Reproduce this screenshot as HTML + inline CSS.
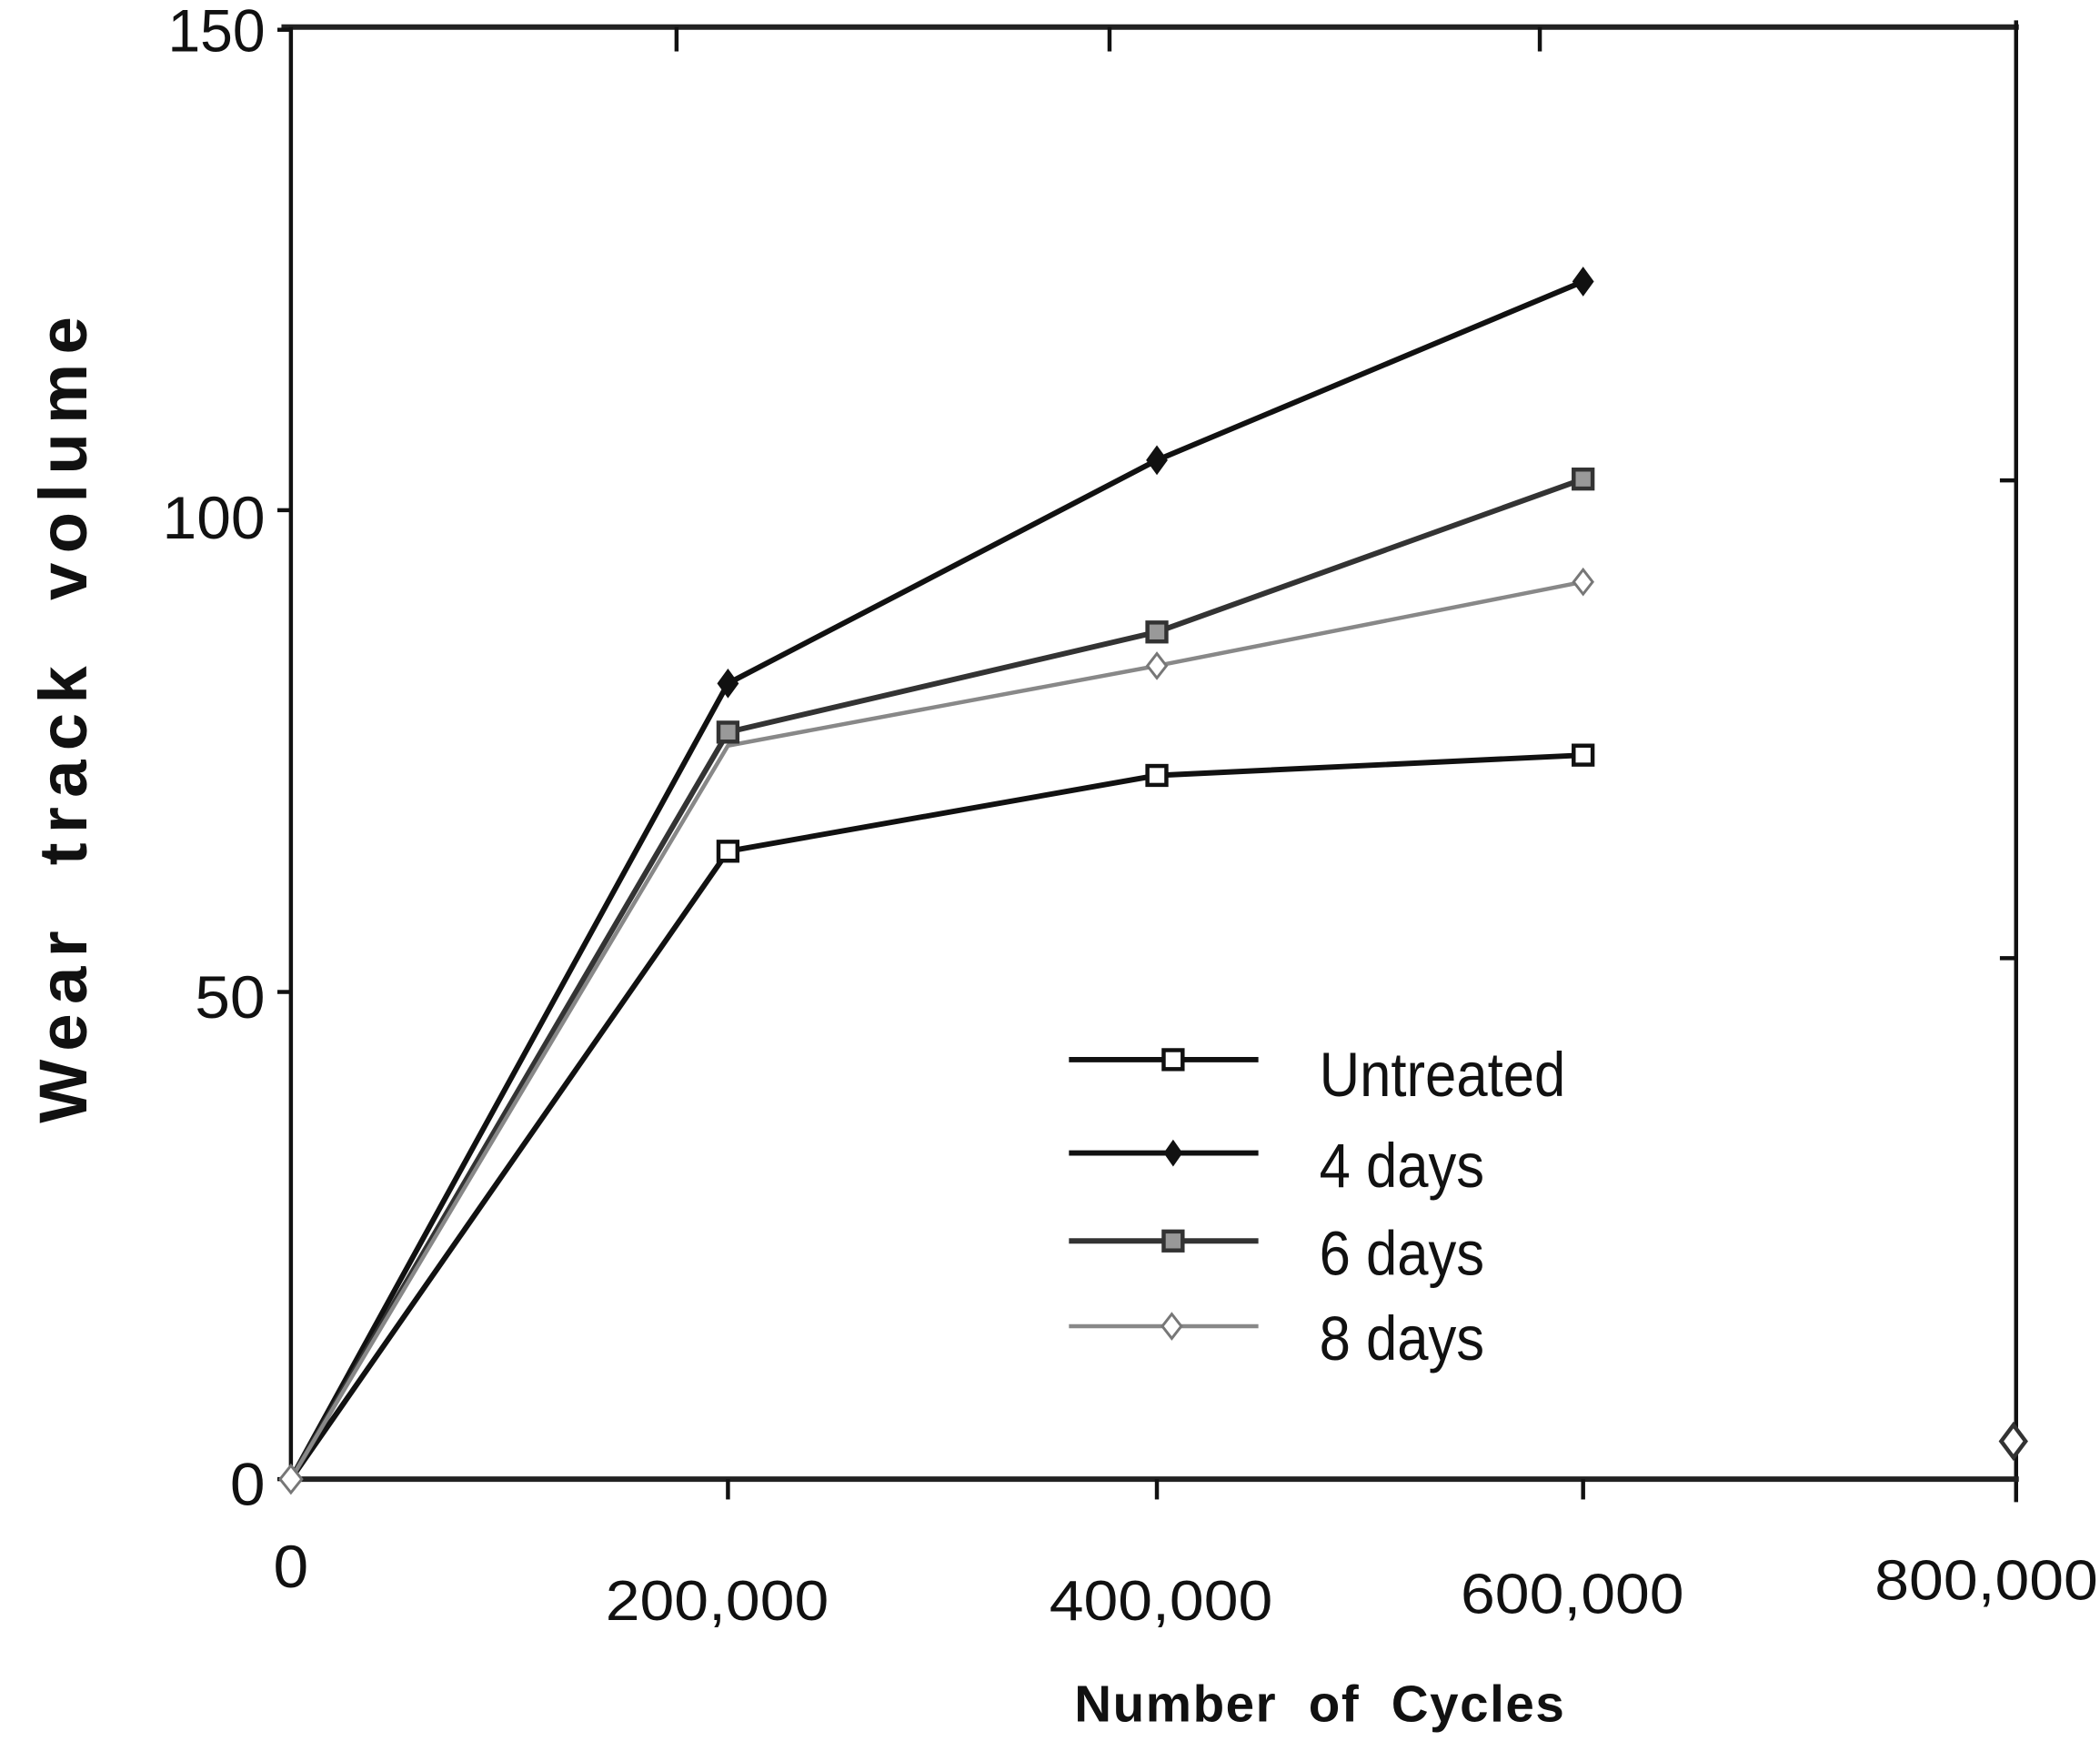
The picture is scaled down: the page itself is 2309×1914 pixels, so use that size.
<!DOCTYPE html>
<html><head><meta charset="utf-8"><style>
html,body{margin:0;padding:0;background:#fff;}
svg{display:block;}
text{font-family:"Liberation Sans",Arial,sans-serif;fill:#111;white-space:pre;}
</style></head><body>
<svg width="2309" height="1914" viewBox="0 0 1552 1286.5" xmlns="http://www.w3.org/2000/svg">
<rect width="1552" height="1286.5" fill="#fff"/>
<g stroke="#111" fill="none">
<line x1="208" y1="20" x2="1492" y2="20" stroke-width="4" stroke="#222"/>
<line x1="215" y1="20" x2="215" y2="1095" stroke-width="3"/>
<line x1="1490" y1="15" x2="1490" y2="1110" stroke-width="3"/>
<line x1="213" y1="1093" x2="1492" y2="1093" stroke-width="4" stroke="#222"/>
<line x1="205" y1="22" x2="215" y2="22" stroke-width="3"/>
<line x1="205" y1="377" x2="215" y2="377" stroke-width="3"/>
<line x1="205" y1="733" x2="215" y2="733" stroke-width="3"/>
<line x1="205" y1="1093" x2="215" y2="1093" stroke-width="3"/>
<line x1="1478" y1="355" x2="1490" y2="355" stroke-width="3"/>
<line x1="1478" y1="708" x2="1490" y2="708" stroke-width="3"/>
<line x1="500" y1="20" x2="500" y2="38" stroke-width="3"/>
<line x1="820" y1="20" x2="820" y2="38" stroke-width="3"/>
<line x1="1138" y1="20" x2="1138" y2="38" stroke-width="3"/>
<line x1="538" y1="1093" x2="538" y2="1108" stroke-width="3"/>
<line x1="855" y1="1093" x2="855" y2="1108" stroke-width="3"/>
<line x1="1170" y1="1093" x2="1170" y2="1108" stroke-width="3"/>
</g>
<g font-size="44" text-anchor="end">
<text x="196" y="38" textLength="72" lengthAdjust="spacingAndGlyphs">150</text>
<text x="196" y="398" textLength="76" lengthAdjust="spacingAndGlyphs">100</text>
<text x="196" y="752" textLength="52" lengthAdjust="spacingAndGlyphs">50</text>
<text x="196" y="1112" textLength="26" lengthAdjust="spacingAndGlyphs">0</text>
</g>
<text x="215" y="1173" font-size="44" text-anchor="middle" textLength="26" lengthAdjust="spacingAndGlyphs">0</text>
<g font-size="42" text-anchor="middle" style="font-family:'DejaVu Sans','Liberation Sans',sans-serif">
<text x="530" y="1197" textLength="165" lengthAdjust="spacingAndGlyphs">200,000</text>
<text x="858" y="1197" textLength="165" lengthAdjust="spacingAndGlyphs">400,000</text>
<text x="1162" y="1192" textLength="165" lengthAdjust="spacingAndGlyphs">600,000</text>
<text x="1468" y="1182" textLength="165" lengthAdjust="spacingAndGlyphs">800,000</text>
</g>
<text x="975" y="1272" font-size="38" font-weight="bold" text-anchor="middle" textLength="362" lengthAdjust="spacing">Number  of  Cycles</text>
<text transform="translate(64,532) rotate(-90)" font-size="50" font-weight="bold" text-anchor="middle" textLength="596" lengthAdjust="spacing">Wear  track  volume</text>
<g fill="none" stroke-linejoin="round">
<polyline points="215,1093 538,629 855,573 1170,558" stroke="#111" stroke-width="4"/>
<polyline points="215,1093 538,505 855,340 1170,208" stroke="#111" stroke-width="4"/>
<polyline points="215,1093 538,541 855,467 1170,354" stroke="#333" stroke-width="4"/>
<polyline points="215,1093 538,551 855,492 1170,430" stroke="#888" stroke-width="3"/>
</g>
<g>
<g fill="#fff" stroke="#111" stroke-width="3">
<rect x="531" y="622" width="14" height="14"/><rect x="848" y="566" width="14" height="14"/><rect x="1163" y="551" width="14" height="14"/>
</g>
<g fill="#111">
<polygon points="538,494 546,505 538,516 530,505"/><polygon points="855,329 863,340 855,351 847,340"/><polygon points="1170,197 1178,208 1170,219 1162,208"/>
</g>
<g fill="#999" stroke="#333" stroke-width="3">
<rect x="531" y="534" width="14" height="14"/><rect x="848" y="460" width="14" height="14"/><rect x="1163" y="347" width="14" height="14"/>
</g>
<g fill="#fff" stroke="#777" stroke-width="2">
<polygon points="855,483 862,492 855,501 848,492"/><polygon points="1170,421 1177,430 1170,439 1163,430"/>
<polygon points="215,1083 223,1093 215,1103 207,1093"/>
<polygon points="1488,1053 1497,1065 1488,1077 1479,1065" stroke="#333" stroke-width="3"/>
</g>
</g>
<g>
<line x1="790" y1="783" x2="930" y2="783" stroke="#111" stroke-width="4"/>
<rect x="860" y="776" width="14" height="14" fill="#fff" stroke="#111" stroke-width="3"/>
<line x1="790" y1="852" x2="930" y2="852" stroke="#111" stroke-width="4"/>
<polygon points="867,842 874,852 867,862 860,852" fill="#111"/>
<line x1="790" y1="917" x2="930" y2="917" stroke="#333" stroke-width="4"/>
<rect x="860" y="910" width="14" height="14" fill="#999" stroke="#333" stroke-width="3"/>
<line x1="790" y1="980" x2="930" y2="980" stroke="#888" stroke-width="3"/>
<polygon points="866,971 873,980 866,989 859,980" fill="#fff" stroke="#777" stroke-width="2"/>
<g font-size="46">
<text x="975" y="810" textLength="182" lengthAdjust="spacingAndGlyphs">Untreated</text>
<text x="975" y="877" textLength="122" lengthAdjust="spacingAndGlyphs">4 days</text>
<text x="975" y="942" textLength="122" lengthAdjust="spacingAndGlyphs">6 days</text>
<text x="975" y="1005" textLength="122" lengthAdjust="spacingAndGlyphs">8 days</text>
</g>
</g>
</svg>
</body></html>
